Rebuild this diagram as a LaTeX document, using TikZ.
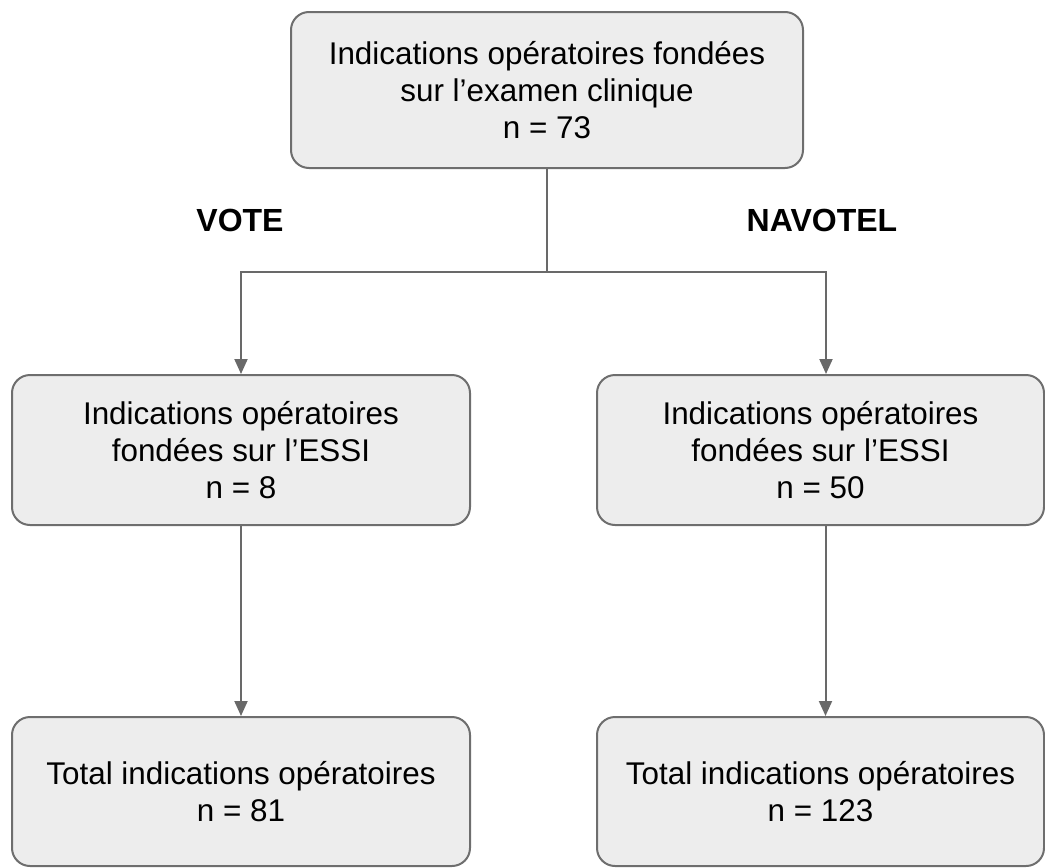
\documentclass[tikz,border=0pt]{standalone}
\usepackage{fontspec}
\setmainfont{Liberation Sans}
\usepackage{tikz}
\usetikzlibrary{
	arrows.meta,
	positioning,
	calc
}
\definecolor{boxfill}{RGB}{237,237,237}
\definecolor{boxline}{RGB}{110,110,110}
\definecolor{arrowline}{RGB}{105,105,105}

\tikzset{
	box/.style={draw=boxline, fill=boxfill, line width=1pt, rounded corners=9pt, align=center,
		inner sep=0pt, font=\fontsize{15.7}{18.5}\selectfont},
	link/.style={draw=arrowline, line width=1pt},
	arm/.style={draw=arrowline, line width=1pt, -{Triangle[length=7.5pt,width=6.5pt]}},
	group/.style={font=\fontsize{16}{19}\selectfont\bfseries}
}

\begin{document}
\begin{tikzpicture}[x=0.5pt, y=-0.5pt]
        \useasboundingbox (0,0) rectangle (1045,868);
        \node[box, minimum width=256pt, minimum height=78pt] (CLIN) at (547,90) {Indications opératoires fondées\\sur l’examen clinique\\n = 73};
        \node[box, minimum width=229pt, minimum height=75pt] (VESSI) at (241,450) {Indications opératoires\\fondées sur l’ESSI\\n = 8};
        \node[box, minimum width=223.5pt, minimum height=75pt] (NESSI) at (820.5,450) {Indications opératoires\\fondées sur l’ESSI\\n = 50};
        \node[box, minimum width=229pt, minimum height=74.5pt] (VTOT) at (241,791.5) {Total indications opératoires\\n = 81};
        \node[box, minimum width=223.5pt, minimum height=74.5pt] (NTOT) at (820.5,791.5) {Total indications opératoires\\n = 123};
        \node[group] (VOTE) at (240,220) {VOTE};
        \node[group] (NAVO) at (822,220) {NAVOTEL};

        \coordinate (split) at (547,272); % branching point below the top box
        \draw[link] (CLIN.south) -- (split);
        \draw[arm] (split) -| (VESSI.north);
        \draw[arm] (split) -| ([xshift=2.75pt]NESSI.north); % right arm sits a bit right of centre
        \draw[arm] (VESSI.south) -- (VTOT.north);
        \draw[arm] ([xshift=2.5pt]NESSI.south) -- ([xshift=2.5pt]NTOT.north);
    \end{tikzpicture}
\end{document}
